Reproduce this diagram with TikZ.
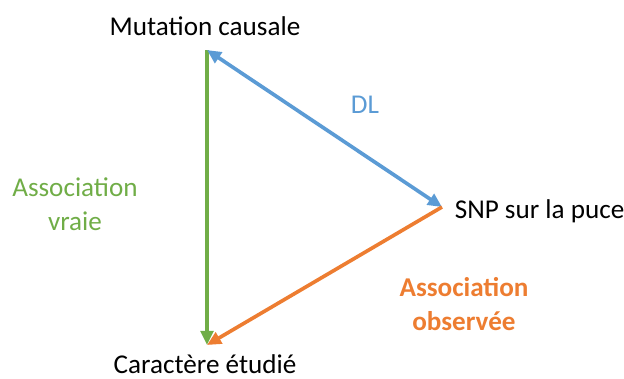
\documentclass[tikz,border=0pt]{standalone}
\usepackage{fontspec}
\setmainfont{Carlito}
\usepackage{xcolor}
\usetikzlibrary{arrows.meta, positioning}
\definecolor{dlblue}{HTML}{5B9BD5}
\definecolor{vraigreen}{HTML}{70AD47}
\definecolor{obsorange}{HTML}{ED7D31}

\begin{document}
\begin{tikzpicture}[x=0.025cm, y=-0.025cm, >={Triangle[length=10pt, width=9pt]}, line width=2.6pt]
  \tikzset{lbl/.style={font=\fontsize{19.3}{24}\selectfont, align=center, inner sep=0pt}}
  \useasboundingbox (0,0) rectangle (624,378);

  \node[lbl] (Mut) at (205,26) {Mutation causale};
  \node[lbl, anchor=west] (Snp) at (453,211) {SNP sur la puce};
  \node[lbl] (Car) at (205,364) {Caractère étudié};
  \node[lbl, text=dlblue] (Dl) at (365,105) {DL};
  \node[lbl, text=vraigreen] (Vraie) at (75,204) {Association\\vraie};
  \node[lbl, text=obsorange, font=\fontsize{19.3}{24}\selectfont\bfseries] (Obs) at (464,304) {Association\\observée};

  \coordinate (mutPt) at (207,50);
  \coordinate (snpPt) at (442,207);
  \coordinate (carPt) at (207,345);

  \draw[->, vraigreen] (mutPt) -- (carPt);
  \draw[<->, dlblue] (mutPt) -- (snpPt);
  \draw[->, obsorange] (snpPt) -- (carPt);
\end{tikzpicture}
\end{document}
